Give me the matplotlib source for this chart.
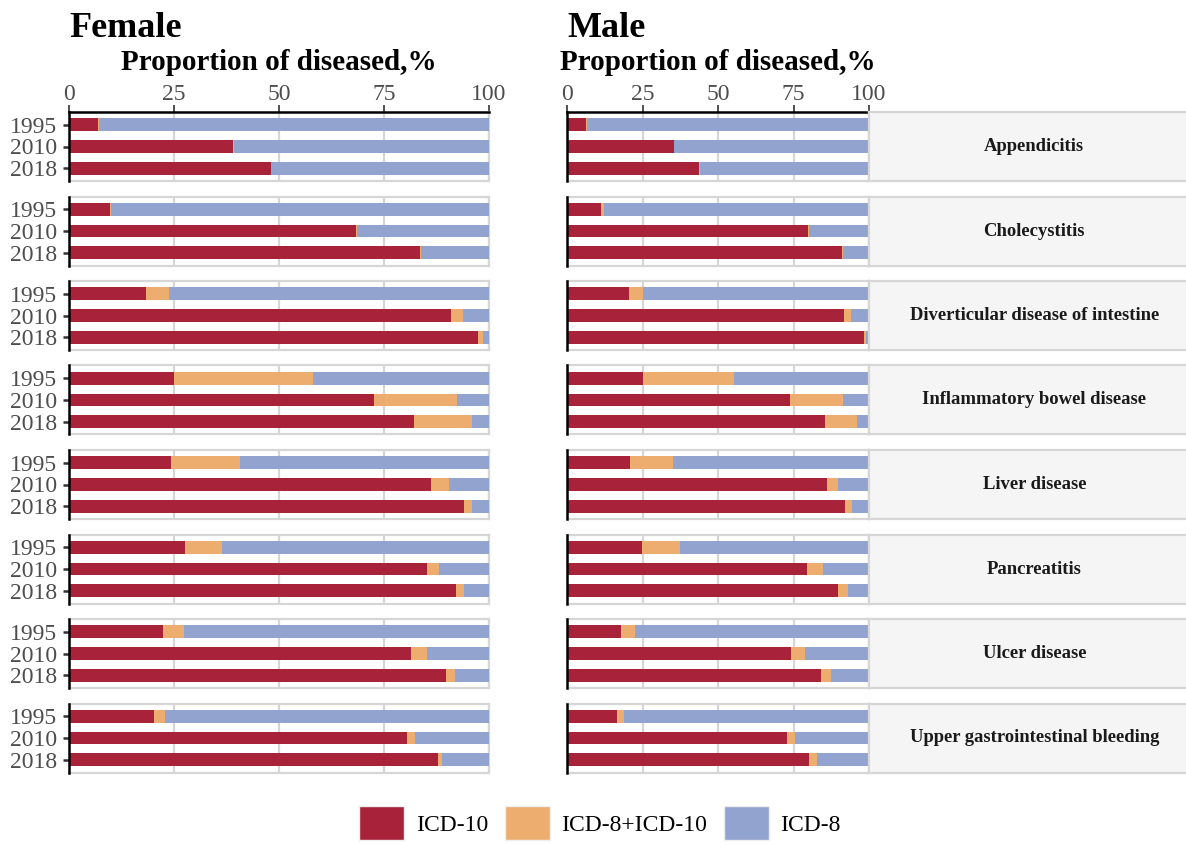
import numpy as np
import matplotlib.pyplot as plt
from matplotlib.patches import Patch

plt.rcParams['font.family'] = ['Liberation Serif', 'DejaVu Serif']

diseases = ['Appendicitis', 'Cholecystitis', 'Diverticular disease of intestine',
            'Inflammatory bowel disease', 'Liver disease', 'Pancreatitis',
            'Ulcer disease', 'Upper gastrointestinal bleeding']
years = ['1995', '2010', '2018']
groups = ['ICD-10', 'ICD-8+ICD-10', 'ICD-8']
colors = ['#a8223a', '#edad6e', '#93a3d0']

# share of diseased (%) coded in ICD-10 and in both revisions, per year
female_icd10 = [[6.9, 39.1, 48.0], [9.8, 68.3, 83.5], [18.4, 90.9, 97.4],
                [25.1, 72.6, 82.1], [24.3, 86.2, 94.0], [27.7, 85.2, 92.1],
                [22.4, 81.4, 89.7], [20.3, 80.4, 87.8]]
female_both = [[0.3, 0.3, 0.1], [0.3, 0.3, 0.3], [5.5, 2.9, 1.2],
               [33.1, 19.8, 13.8], [16.3, 4.3, 1.9], [8.8, 2.9, 1.9],
               [5.0, 3.8, 2.2], [2.6, 1.9, 1.0]]
male_icd10 = [[6.3, 35.4, 43.7], [11.3, 79.8, 91.1], [20.5, 91.7, 98.3],
              [25.2, 73.8, 85.4], [20.9, 86.1, 92.1], [24.8, 79.5, 89.7],
              [17.9, 74.2, 84.1], [16.6, 72.8, 80.1]]
male_both = [[0.3, 0.1, 0.2], [1.0, 0.3, 0.3], [4.7, 2.3, 0.7],
             [30.1, 17.6, 10.6], [14.2, 3.6, 2.3], [12.6, 5.3, 3.3],
             [4.6, 4.6, 3.3], [2.3, 2.7, 2.7]]

W, H = 1186, 844
fig = plt.figure(figsize=(W / 100, H / 100), dpi=100)


def rect(x0, y0, x1, y1):
    return [x0 / W, 1 - y1 / H, (x1 - x0) / W, (y1 - y0) / H]


border = '#d6d6d6'
panels = [('Female', 69, 489, female_icd10, female_both),
          ('Male', 567, 869, male_icd10, male_both)]
top0, step, ph = 112, 84.5, 69

for title, x0, x1, icd10, both in panels:
    fig.text(x0 / W, 1 - 37 / H, title, fontsize=26, fontweight='bold',
             ha='left', va='baseline')
    fig.text((x0 + x1) / 2 / W, 1 - 70 / H, 'Proportion of diseased,%',
             fontsize=21, fontweight='bold', ha='center', va='baseline')
    for i, d in enumerate(diseases):
        top = top0 + i * step
        ax = fig.add_axes(rect(x0, top, x1, top + ph))
        a = np.array(icd10[i])
        b = np.array(both[i])
        c = 100 - a - b
        y = np.arange(len(years))
        ax.barh(y, a, height=0.6, color=colors[0], zorder=3)
        ax.barh(y, b, left=a, height=0.6, color=colors[1], zorder=3)
        ax.barh(y, c, left=a + b, height=0.6, color=colors[2], zorder=3)
        ax.set_xlim(0, 100)
        ax.set_ylim(2.6, -0.6)
        ax.set_xticks([0, 25, 50, 75, 100])
        ax.grid(axis='x', color=border, lw=1.6, zorder=0)
        for s in ax.spines.values():
            s.set_color(border)
            s.set_linewidth(1.6)
        ax.spines['left'].set_color('black')
        ax.spines['left'].set_linewidth(1.8)
        ax.spines['left'].set_zorder(4)
        if i == 0:
            ax.xaxis.tick_top()
            ax.spines['top'].set_color('black')
            ax.spines['top'].set_linewidth(1.8)
            ax.tick_params(axis='x', length=5, width=1.2, color='#333333',
                           pad=0, labelsize=17, labelcolor='#4d4d4d')
        else:
            ax.tick_params(axis='x', length=0, labeltop=False, labelbottom=False)
        if title == 'Female':
            ax.set_yticks(y)
            ax.set_yticklabels(years)
            ax.tick_params(axis='y', length=4.5, width=1.8, color='#333333',
                           pad=4, labelsize=17, labelcolor='#4d4d4d')
        else:
            ax.set_yticks([])
            sx = fig.add_axes(rect(869, top, 1187, top + ph))
            sx.set_facecolor('#f5f5f5')
            sx.set_xticks([])
            sx.set_yticks([])
            for s in sx.spines.values():
                s.set_color(border)
                s.set_linewidth(1.6)
            sx.text(0.52, 0.5, d, transform=sx.transAxes, ha='center',
                    va='center', fontsize=13.4, fontweight='bold', color='#1a1a1a')

handles = [Patch(facecolor=c, edgecolor='#eeeeee', lw=1) for c in colors]
fig.legend(handles, groups, loc='lower center', bbox_to_anchor=(0.506, -0.007),
           ncol=3, frameon=False, fontsize=17, handlelength=1.9, handleheight=1.9,
           handletextpad=0.5, columnspacing=0.7, borderaxespad=0)

fig.savefig('out.png', dpi=100)
